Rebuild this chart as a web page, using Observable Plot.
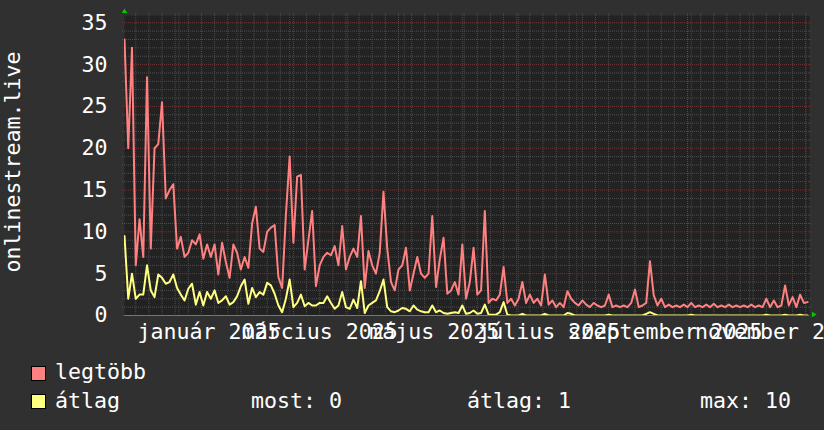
<!DOCTYPE html>
<html><head><meta charset="utf-8">
<script src="https://cdn.jsdelivr.net/npm/d3@7"></script>
<script src="https://cdn.jsdelivr.net/npm/@observablehq/plot@0.6"></script>
<style>
html,body{margin:0;padding:0;background:#303030;}
#wrap{position:relative;width:824px;height:430px;background:#303030;overflow:hidden;font-family:"DejaVu Sans Mono",monospace;color:#fff;}
#chart{position:absolute;left:0;top:0;}
.sw{position:absolute;box-sizing:border-box;width:15px;height:15px;border:1px solid #000;}
.lt{position:absolute;font-size:21.6px;line-height:1;white-space:pre;}
</style></head><body>
<div id="wrap">
  <div id="chart"></div>
  <div class="sw" style="left:31px;top:366px;background:#ff8080"></div>
  <div class="lt" style="left:55px;top:361px" id="l1"></div>
  <div class="sw" style="left:31px;top:394px;background:#ffff80"></div>
  <div class="lt" style="left:55px;top:390px" id="l2"></div>
  <div class="lt" style="left:251px;top:390px" id="g1"></div>
  <div class="lt" style="left:467px;top:390px" id="g2"></div>
  <div class="lt" style="left:700px;top:390px" id="g3"></div>
</div>
<script>
// ---- data ----
const seriesNames = ["legtöbb", "átlag"];
const seriesColors = ["#ff8080", "#ffff80"];
const yLabel = "onlinestream.live";
const startDate = new Date(Date.UTC(2024, 11, 3));
const endDate = new Date(Date.UTC(2025, 11, 3));
const stepDays = 2;
const maxVals = [
 33,20,32,6,11.5,7,28.5,8,20,20.5,25.5,14,15,15.7,8,9.4,7,7.5,9,8.5,
 9.7,6.8,8.5,7,8.5,4.9,8.7,6.4,4.5,8.5,7.5,5.5,7,5.7,11,13,8,7.6,10,10.5,
 10.8,4.6,3.3,12,19,8.7,16.6,16.8,5.5,9,12.5,3.5,6,7,7.5,7.2,8.3,6,10.7,5.5,
 7,8,7,11.9,3.3,7.7,6,5,7.5,14.8,8,4,3,5.5,6,8.1,3,5,7,5,
 4.5,5,11.9,3.4,6.7,9.3,2.6,3,4,2.5,8.5,2,4,8.1,2.5,3,12.5,1.5,2,1.8,
 2.5,5.8,1.5,2,1.2,2,4,1.5,2.5,1.5,2,1.2,4.9,1.3,1.8,1,1.5,1,2.9,2,
 1.5,1.2,1.8,1.3,1,1.5,1.2,1,1.2,2.5,1,1.2,1,1.2,1,1.5,3.1,1,1.2,1.5,
 6.5,2.4,1.2,2,1,1.3,1,1.2,1,1.3,1,1.5,1,1.2,1,1.3,1,1.4,1,1.2,
 1,1.3,1,1.2,1,1.2,1,1.3,1,1.2,1,2,1,1.8,1,1.2,3.6,1.2,2.2,1,
 2.5,1.5,1.6
];
const avgVals = [
 9.5,2,5,2,2.5,2.5,6,3,2.2,4.9,4.5,3.8,4,4.9,3.3,2.5,1.8,3.2,3.8,1.3,
 2.8,1.2,2.8,2,3,1.5,1.8,2.3,1.3,1.6,2.3,3.5,4.3,1.4,3.3,2.2,2.8,2.5,3.9,3.6,
 2.6,1.2,0.4,2,4.3,1,1.5,2.5,1.1,1.5,1.2,1.2,1.5,1.5,2.3,1.5,0.8,1.2,2.8,1,
 0.8,1.9,0.9,4.1,0.3,1.2,1.5,1.8,2.9,4.3,1,0.5,0.4,0.6,0.9,0.8,0.5,1.2,0.7,0.5,
 0.4,0.4,1.2,0.4,0.6,0.3,0.2,0.3,0.4,0.3,1.2,0.2,0.3,0.6,0.2,0.3,1.3,0.1,0.1,0.1,
 0.4,1.6,0.1,0,0,0,0.2,0,0,0,0,0,0.2,0,0,0,0,0,0.3,0.2,
 0,0,0,0,0,0,0,0,0,0.1,0,0,0,0,0,0,0,0,0,0.2,
 0.4,0.2,0,0,0,0,0,0,0,0,0,0.1,0,0,0,0,0,0,0,0,
 0,0,0,0,0,0,0,0,0,0,0,0.1,0,0,0,0,0.1,0,0,0,
 0.1,0,0
];
const yTicks = [0, 5, 10, 15, 20, 25, 30, 35];
const yMax = 35.87;
const monthLabels = ["január 2025", "március 2025", "május 2025", "július 2025", "szeptember 2025", "november 2025"];
const monthLabelDates = ["2025-01-17", "2025-03-17", "2025-05-17", "2025-07-17", "2025-09-17", "2025-11-17"];
const legendStats = ["most: 0", "átlag: 1", "max: 10"];

// ---- build ----
const data = maxVals.map((v, i) => ({date: d3.utcDay.offset(startDate, i * stepDays), max: v, avg: avgVals[i]}));
const labels = monthLabels.map((t, i) => ({t, date: new Date(monthLabelDates[i] + "T00:00Z")}));
const weeks = d3.utcMonday.range(startDate, endDate);
const months = d3.utcMonth.range(startDate, endDate);
const minorY = d3.range(1, 36).filter(v => v % 5 !== 0);
const font = "DejaVu Sans Mono";
const fs = 21.6;
const minorColor = "#4e4e4e";
const majorColor = "#713434";

const chart = Plot.plot({
  width: 824, height: 345,
  marginLeft: 124, marginRight: 15, marginTop: 15, marginBottom: 30,
  x: {type: "utc", domain: [startDate, endDate], axis: null},
  y: {domain: [0, yMax], axis: null},
  style: {background: "transparent", color: "#fff", fontFamily: font, fontSize: fs + "px", overflow: "visible"},
  marks: [
    Plot.frame({fill: "#222222", stroke: null}),
    Plot.ruleY(minorY, {stroke: minorColor, strokeDasharray: "1,1", insetLeft: -2, insetRight: -3}),
    Plot.ruleX(weeks, {stroke: minorColor, strokeDasharray: "1,1", insetTop: -2, insetBottom: -2}),
    Plot.ruleY(yTicks, {stroke: majorColor, strokeDasharray: "1,1", insetLeft: -2, insetRight: -3}),
    Plot.ruleX(months, {stroke: majorColor, strokeDasharray: "1,1", insetTop: -2, insetBottom: -2}),
    Plot.ruleY([0], {stroke: "#7b7b55"}),
    Plot.line(data, {x: "date", y: "max", stroke: seriesColors[0], strokeWidth: 2, clip: true}),
    Plot.line(data, {x: "date", y: "avg", stroke: seriesColors[1], strokeWidth: 2, clip: true}),
    Plot.text(yTicks, {y: d => d, frameAnchor: "left", textAnchor: "end", dx: -17, lineAnchor: "middle", fill: "#fff", fontSize: fs, fontFamily: font}),
    Plot.text(labels, {x: "date", y: 0, text: "t", textAnchor: "middle", lineAnchor: "bottom", dy: 23, fill: "#fff", fontSize: fs, fontFamily: font}),
    Plot.text([yLabel], {frameAnchor: "left", rotate: -90, dx: -120, dy: -3.5, textAnchor: "middle", lineAnchor: "top", fill: "#fff", fontSize: fs, fontFamily: font}),
    Plot.dot([startDate], {x: d => d, y: yMax, dy: -4, symbol: "triangle", r: 2, fill: "#00cc00", stroke: null}),
    Plot.dot([endDate], {x: d => d, y: 0, dx: 4, dy: -1, symbol: "triangle", rotate: 90, r: 2, fill: "#00cc00", stroke: null})
  ]
});
document.getElementById("chart").appendChild(chart);
document.getElementById("l1").textContent = seriesNames[0];
document.getElementById("l2").textContent = seriesNames[1];
document.getElementById("g1").textContent = legendStats[0];
document.getElementById("g2").textContent = legendStats[1];
document.getElementById("g3").textContent = legendStats[2];
</script>
</body></html>
